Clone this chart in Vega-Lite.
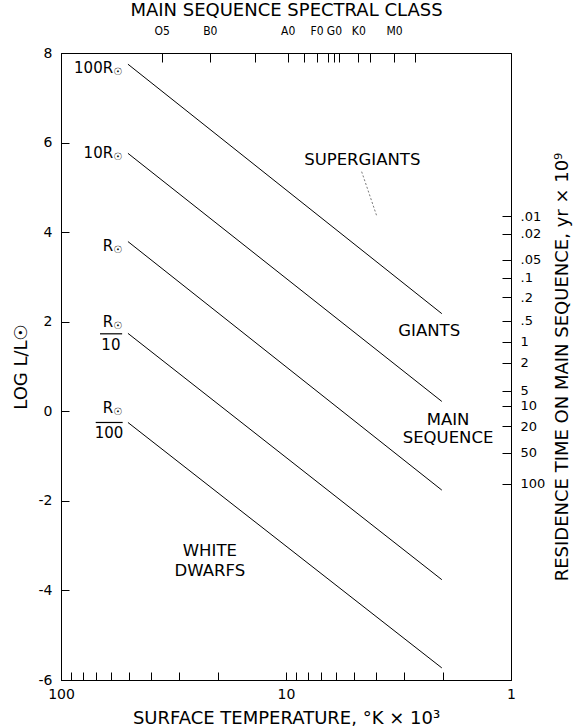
{
  "$schema": "https://vega.github.io/schema/vega-lite/v6.json",
  "autosize": "none",
  "width": 450,
  "height": 627,
  "padding": {"left": 61, "top": 53, "right": 66, "bottom": 47},
  "background": "white",
  "datasets": {
    "lines": [
      {"R": "100R", "T": 50.4, "L": 7.75}, {"R": "100R", "T": 2.03, "L": 2.18},
      {"R": "10R", "T": 50.4, "L": 5.76}, {"R": "10R", "T": 2.03, "L": 0.22},
      {"R": "R", "T": 50.4, "L": 3.79}, {"R": "R", "T": 2.03, "L": -1.76},
      {"R": "R/10", "T": 50.4, "L": 1.74}, {"R": "R/10", "T": 2.03, "L": -3.76},
      {"R": "R/100", "T": 50.4, "L": -0.25}, {"R": "R/100", "T": 2.03, "L": -5.73}
    ],
    "pointer": [{"T": 4.61, "L": 5.35}, {"T": 3.95, "L": 4.36}],
    "radius": [
      {"t": "100R", "T": 53.5, "L": 7.66},
      {"t": "10R", "T": 53.5, "L": 5.76},
      {"t": "R", "T": 53.5, "L": 3.68},
      {"t": "R", "T": 53.5, "L": 2.0},
      {"t": "R", "T": 53.5, "L": 0.07}
    ],
    "denom": [{"t": "10", "T": 60, "L": 1.48}, {"t": "100", "T": 61.2, "L": -0.49}],
    "bars": [{"T": 67.1, "T2": 53.5, "L": 1.73}, {"T": 70.1, "T2": 53.2, "L": -0.25}],
    "regions": [
      {"t": "SUPERGIANTS", "T": 4.58, "L": 5.6},
      {"t": "GIANTS", "T": 2.31, "L": 1.8},
      {"t": "MAIN", "T": 1.905, "L": -0.19},
      {"t": "SEQUENCE", "T": 1.905, "L": -0.59},
      {"t": "WHITE", "T": 21.8, "L": -3.13},
      {"t": "DWARFS", "T": 21.8, "L": -3.56}
    ]
  },
  "layer": [
    {
      "data": {"name": "lines"},
      "mark": {"type": "line", "color": "black", "strokeWidth": 1},
      "encoding": {
        "x": {"field": "T", "type": "quantitative",
          "scale": {"type": "log", "domain": [1, 100], "reverse": true, "nice": false},
          "axis": {"orient": "bottom", "title": "SURFACE TEMPERATURE, °K × 10³",
            "values": [100, 90, 80, 70, 60, 50, 40, 30, 20, 10, 9, 8, 7, 6, 5, 4, 3, 2, 1],
            "labelExpr": "indexof([100, 10, 1], datum.value) >= 0 ? format(datum.value, 'd') : ''",
            "tickSize": -8, "labelPadding": 15, "labelFlush": false, "titlePadding": 8,
            "labelAlign": "center", "labelBaseline": "top"}},
        "y": {"field": "L", "type": "quantitative",
          "scale": {"domain": [-6, 8], "nice": false, "zero": false},
          "axis": {"orient": "left", "title": "LOG L/L☉", "values": [-6, -4, -2, 0, 2, 4, 6, 8],
            "labelExpr": "replace(format(datum.value, 'd'), '−', '-')",
            "tickSize": -8, "labelPadding": 17, "titlePadding": 8, "labelAlign": "right", "labelBaseline": "middle"}},
        "detail": {"field": "R"}
      }
    },
    {
      "data": {"name": "pointer"},
      "mark": {"type": "line", "color": "#555", "strokeWidth": 0.8, "strokeDash": [2, 2]},
      "encoding": {
        "x": {"field": "T", "type": "quantitative", "axis": null},
        "y": {"field": "L", "type": "quantitative", "axis": null}
      }
    },
    {
      "data": {"name": "radius"},
      "mark": {"type": "text", "align": "right", "baseline": "middle", "dx": -9, "fontSize": 15, "font": "DejaVu Sans", "color": "black"},
      "encoding": {
        "x": {"field": "T", "type": "quantitative",
          "axis": {"orient": "top", "title": "MAIN SEQUENCE SPECTRAL CLASS",
            "values": [35.7, 21.8, 13.7, 9.83, 8.3, 7.31, 6.49, 6.12, 5.81, 4.77, 4.24, 3.31, 2.67],
            "labelExpr": "['O5','B0','','A0','','F0','','G0','','K0','','M0',''][indexof([35.7, 21.8, 13.7, 9.83, 8.3, 7.31, 6.49, 6.12, 5.81, 4.77, 4.24, 3.31, 2.67], datum.value)]",
            "labelFont": "DejaVu Sans Condensed", "labelFontSize": 12,
            "tickSize": -9, "labelPadding": 25, "titlePadding": 5, "labelFlush": false,
            "labelAlign": "center", "labelBaseline": "bottom"}},
        "y": {"field": "L", "type": "quantitative",
          "axis": {"orient": "right", "title": "RESIDENCE TIME ON MAIN SEQUENCE, yr × 10⁹",
            "values": [4.36, 3.96, 3.38, 2.98, 2.55, 2.02, 1.55, 1.08, 0.46, 0.12, -0.33, -0.93, -1.62],
            "labelExpr": "['.01','.02','.05','.1','.2','.5','1','2','5','10','20','50','100'][indexof([4.36, 3.96, 3.38, 2.98, 2.55, 2.02, 1.55, 1.08, 0.46, 0.12, -0.33, -0.93, -1.62], datum.value)]",
            "labelFontSize": 13, "tickSize": -9, "labelPadding": 18, "titlePadding": 9,
            "titleAngle": 270, "titleBaseline": "top",
            "labelAlign": "left", "labelBaseline": "middle"}},
        "text": {"field": "t"}
      }
    },
    {
      "data": {"name": "radius"},
      "mark": {"type": "text", "align": "right", "baseline": "middle", "dy": 4, "fontSize": 10, "font": "DejaVu Sans", "color": "black", "text": "☉"},
      "encoding": {
        "x": {"field": "T", "type": "quantitative", "axis": null},
        "y": {"field": "L", "type": "quantitative", "axis": null}
      }
    },
    {
      "data": {"name": "denom"},
      "mark": {"type": "text", "align": "center", "baseline": "middle", "fontSize": 15, "font": "DejaVu Sans", "color": "black"},
      "encoding": {
        "x": {"field": "T", "type": "quantitative", "axis": null},
        "y": {"field": "L", "type": "quantitative", "axis": null},
        "text": {"field": "t"}
      }
    },
    {
      "data": {"name": "bars"},
      "mark": {"type": "rule", "color": "black", "strokeWidth": 1.2},
      "encoding": {
        "x": {"field": "T", "type": "quantitative", "axis": null},
        "x2": {"field": "T2"},
        "y": {"field": "L", "type": "quantitative", "axis": null}
      }
    },
    {
      "data": {"name": "regions"},
      "mark": {"type": "text", "align": "center", "baseline": "middle", "fontSize": 16.5, "font": "DejaVu Sans", "color": "black"},
      "encoding": {
        "x": {"field": "T", "type": "quantitative", "axis": null},
        "y": {"field": "L", "type": "quantitative", "axis": null},
        "text": {"field": "t"}
      }
    }
  ],
  "resolve": {"axis": {"x": "independent", "y": "independent"}},
  "config": {
    "view": {"stroke": "black", "strokeWidth": 1},
    "axis": {
      "grid": false, "domainColor": "black", "tickColor": "black", "labelColor": "black", "titleColor": "black",
      "labelFont": "DejaVu Sans", "titleFont": "DejaVu Sans", "labelFontSize": 14, "titleFontSize": 18,
      "titleFontWeight": "normal", "domainWidth": 1, "tickWidth": 1
    }
  }
}
